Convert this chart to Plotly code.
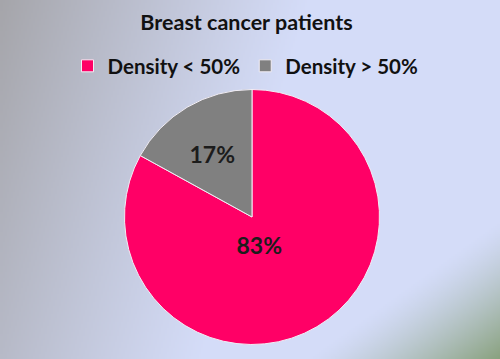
import base64, struct, zlib
import plotly.graph_objects as go

# ---- data ----
labels = ["Density < 50%", "Density > 50%"]
values = [83, 17]
colors = ["#FF0066", "#808080"]
title_text = "Breast cancer patients"

# ---- background gradient image (pure python PNG) ----
W, H = 250, 180
def clip(v):
    return 0.0 if v < 0 else (1.0 if v > 1 else v)

base = (212, 220, 248)
gray = (165, 165, 170)
green = (138, 162, 128)
rows = []
for j in range(H):
    row = bytearray([0])
    for i in range(W):
        u, v = i / (W - 1), j / (H - 1)
        wg = clip(1 - u / 0.62 - v * 0.35) ** 1.1
        wgr = clip((u + v - 1.62) / 0.38) ** 1.3
        c = []
        for k in range(3):
            val = base[k] * (1 - wg) + gray[k] * wg
            val = val * (1 - wgr) + green[k] * wgr
            c.append(int(round(val)))
        row.extend(c)
    rows.append(bytes(row))
raw = b"".join(rows)

def chunk(t, d):
    return struct.pack(">I", len(d)) + t + d + struct.pack(">I", zlib.crc32(t + d) & 0xffffffff)

png = b"\x89PNG\r\n\x1a\n" + chunk(b"IHDR", struct.pack(">IIBBBBB", W, H, 8, 2, 0, 0, 0)) \
      + chunk(b"IDAT", zlib.compress(raw, 9)) + chunk(b"IEND", b"")
bg_uri = "data:image/png;base64," + base64.b64encode(png).decode()

FW, FH = 500, 359
cx, cy, r = 252, 217, 127.5

def dom(rad, dx=0, dy=0):
    x0, y0 = cx + dx, cy + dy
    return dict(x=[(x0 - rad) / FW, (x0 + rad) / FW],
                y=[(FH - y0 - rad) / FH, (FH - y0 + rad) / FH])

label_font = dict(family="Lato", size=23, color="#1c1c1c", weight="bold")

# main pie (slices + legend)
fig = go.Figure(go.Pie(
    labels=labels, values=values,
    marker=dict(colors=colors, line=dict(color="#f2eef5", width=1)),
    sort=False, direction="clockwise", rotation=0,
    textinfo="none", domain=dom(r), hoverinfo="label+percent",
))
# label layers: transparent pies of the same data, each showing one percentage
for idx, rad, dx, dy in ((1, 112, -2, 1), (0, 56, -7, 4)):
    tt = ["" for _ in values]
    tt[idx] = "%{percent:.0%}"
    fig.add_trace(go.Pie(
        labels=labels, values=values,
        marker=dict(colors=["rgba(0,0,0,0)"] * len(values), line=dict(width=0)),
        sort=False, direction="clockwise", rotation=0,
        texttemplate=tt, textposition="inside", insidetextorientation="horizontal",
        textfont=label_font, domain=dom(rad, dx, dy), hoverinfo="skip", showlegend=False,
    ))

fig.update_layout(
    width=FW, height=FH,
    margin=dict(l=0, r=0, t=0, b=0),
    paper_bgcolor="#d4dcf8",
    images=[dict(source=bg_uri, xref="paper", yref="paper", x=0, y=1,
                 sizex=1, sizey=1, sizing="stretch", layer="below",
                 xanchor="left", yanchor="top")],
    title=dict(text=title_text, x=246.5 / FW, xanchor="center", y=1 - 22 / FH, yanchor="middle",
               font=dict(family="Lato", size=21.5, color="#111111", weight="bold")),
    legend=dict(orientation="h", x=245.5 / FW, xanchor="center", y=1 - 66 / FH, yanchor="middle",
                font=dict(family="Lato", size=20.5, color="#111111", weight="bold"),
                bgcolor="rgba(0,0,0,0)", itemwidth=30),
    showlegend=True,
)

fig.write_html("out.html", config={"displayModeBar": False},
               post_script="document.body.style.margin='0';document.body.style.overflow='hidden';")
